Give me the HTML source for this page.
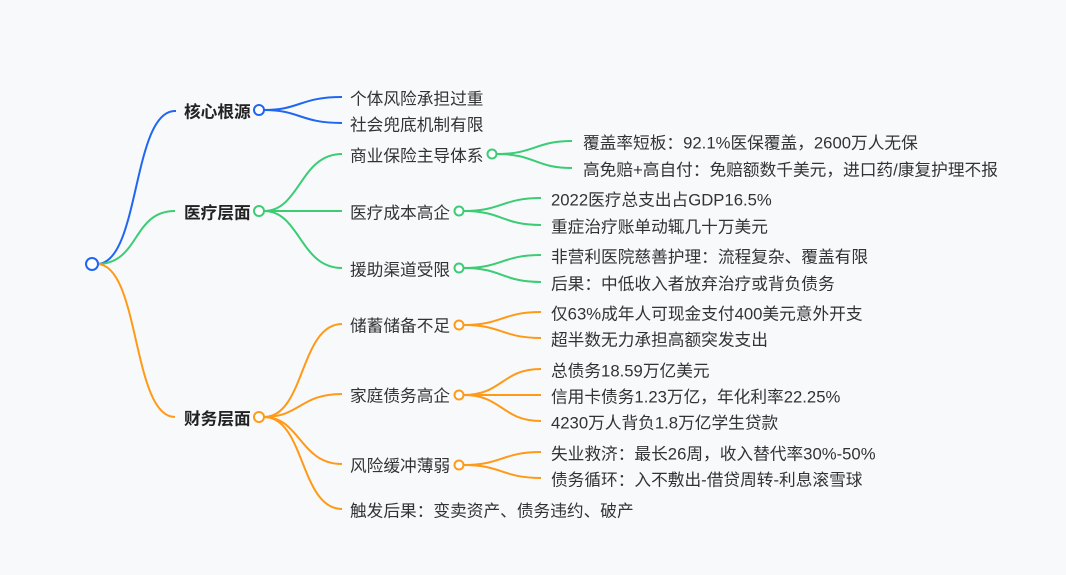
<!DOCTYPE html>
<html><head><meta charset="utf-8"><style>
html,body{margin:0;padding:0;background:#f8f9fb;}
svg{display:block;}
text{font-family:"Liberation Sans","Noto Sans CJK SC",sans-serif;font-size:16.7px;fill:#333;dominant-baseline:central;}
.b{font-weight:bold;fill:#222;}
path,circle{fill:none;stroke-width:2;}
circle{fill:#fff;}
.bl{stroke:#1f66f2;}.gr{stroke:#3bcc75;}.or{stroke:#ff9a18;}
</style></head><body>
<svg width="1066" height="575" viewBox="0 0 1066 575">
<path class="bl" d="M97 264 C140 264,132 111,175 111 L176 111"/>
<path class="gr" d="M97 264 C140 264,132 211,175 211"/>
<path class="or" d="M97 264 C140 264,132 417,175 417"/>
<circle class="bl" cx="92" cy="264" r="6"/>
<g transform="translate(0,1)">
<text class="b" x="184" y="111">核心根源</text>
<text class="b" x="184" y="212">医疗层面</text>
<text class="b" x="184" y="418">财务层面</text>
<text x="350" y="98">个体风险承担过重</text>
<text x="350" y="124">社会兜底机制有限</text>
<text x="350" y="155">商业保险主导体系</text>
<text x="350" y="212">医疗成本高企</text>
<text x="350" y="269">援助渠道受限</text>
<text x="583" y="142">覆盖率短板：92.1%医保覆盖，2600万人无保</text>
<text x="583" y="169">高免赔+高自付：免赔额数千美元，进口药/康复护理不报</text>
<text x="551" y="199">2022医疗总支出占GDP16.5%</text>
<text x="551" y="226">重症治疗账单动辄几十万美元</text>
<text x="551" y="256">非营利医院慈善护理：流程复杂、覆盖有限</text>
<text x="551" y="283">后果：中低收入者放弃治疗或背负债务</text>
<text x="350" y="325">储蓄储备不足</text>
<text x="350" y="395">家庭债务高企</text>
<text x="350" y="465">风险缓冲薄弱</text>
<text x="350" y="510">触发后果：变卖资产、债务违约、破产</text>
<text x="551" y="313">仅63%成年人可现金支付400美元意外开支</text>
<text x="551" y="339">超半数无力承担高额突发支出</text>
<text x="551" y="370">总债务18.59万亿美元</text>
<text x="551" y="396">信用卡债务1.23万亿，年化利率22.25%</text>
<text x="551" y="422">4230万人背负1.8万亿学生贷款</text>
<text x="551" y="453">失业救济：最长26周，收入替代率30%-50%</text>
<text x="551" y="479">债务循环：入不敷出-借贷周转-利息滚雪球</text>
</g>
<path class="bl" d="M264 110 C300 110,300 97,342 97"/>
<path class="bl" d="M264 110 C300 110,300 123,342 123"/>
<circle class="bl" cx="259" cy="110" r="5"/>
<path class="gr" d="M264 211 C300 211,300 154,342 154"/>
<path class="gr" d="M264 211 L342 211"/>
<path class="gr" d="M264 211 C300 211,300 268,342 268"/>
<circle class="gr" cx="259" cy="211" r="5"/>
<path class="gr" d="M497 154 C535 154,535 141,572 141"/>
<path class="gr" d="M497 154 C535 154,535 168,572 168"/>
<circle class="gr" cx="492" cy="154" r="4.5"/>
<path class="gr" d="M464 211 C502 211,502 198,541 198"/>
<path class="gr" d="M464 211 C502 211,502 225,541 225"/>
<circle class="gr" cx="459" cy="211" r="4.5"/>
<path class="gr" d="M464 268 C502 268,502 255,541 255"/>
<path class="gr" d="M464 268 C502 268,502 282,541 282"/>
<circle class="gr" cx="459" cy="268" r="4.5"/>
<path class="or" d="M264 417 C305 417,300 324,342 324"/>
<path class="or" d="M264 417 C300 417,300 394,342 394"/>
<path class="or" d="M264 417 C300 417,300 464,342 464"/>
<path class="or" d="M264 417 C305 417,300 509,342 509"/>
<circle class="or" cx="259" cy="417" r="5"/>
<path class="or" d="M464 325 C502 325,502 312,541 312"/>
<path class="or" d="M464 325 C502 325,502 338,541 338"/>
<circle class="or" cx="459" cy="325" r="4.5"/>
<path class="or" d="M464 395 C502 395,502 369,541 369"/>
<path class="or" d="M464 395 L541 395"/>
<path class="or" d="M464 395 C502 395,502 421,541 421"/>
<circle class="or" cx="459" cy="395" r="4.5"/>
<path class="or" d="M464 465 C502 465,502 452,541 452"/>
<path class="or" d="M464 465 C502 465,502 478,541 478"/>
<circle class="or" cx="459" cy="465" r="4.5"/>
</svg>
</body></html>
